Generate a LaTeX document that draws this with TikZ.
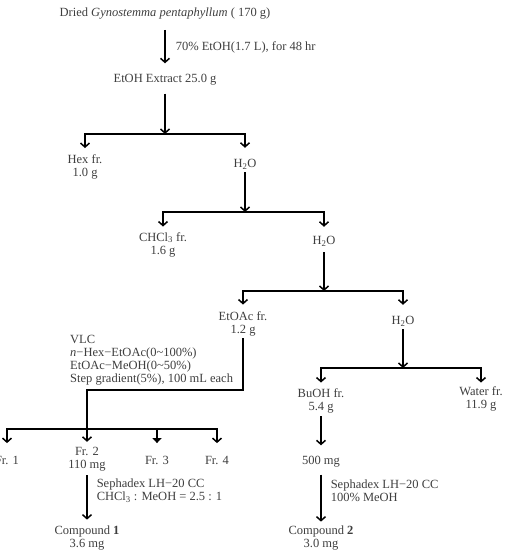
\documentclass[tikz,border=0pt]{standalone}
\usepackage{fontspec}
\setmainfont{Liberation Serif}
\usepackage{tikz}
\usetikzlibrary{arrows.meta, calc}
\definecolor{ink}{RGB}{62,62,62}

\begin{document}
\begin{tikzpicture}[x=1pt, y=-1pt,
  stage/.style={font=\fontsize{12.5}{13}\selectfont, align=center, inner sep=1pt, text=ink},
  note/.style={stage, align=left, anchor=west},
  flow/.style={line width=1.5pt, -{Straight Barb[length=4pt,width=9pt]}},
  flowfill/.style={line width=1.5pt, -{Triangle[length=5pt,width=9pt]}},
]
  \useasboundingbox (0,0) rectangle (509,557);

  % Extraction
  \node[stage] (dried) at (165,14) {Dried \textit{Gynostemma pentaphyllum} ( 170 g)};
  \node[stage] (extract) at (165,80) {EtOH Extract 25.0 g};
  \draw[flow, shorten <=9pt, shorten >=10pt] (dried) -- node[note, right=9pt] {70\% EtOH(1.7 L), for 48 hr} (extract);

  % Partition 1
  \node[stage] (hex) at (85,166.5) {Hex fr.\\1.0 g};
  \node[stage] (waterA) at (245,164) {H\textsubscript{2}O};
  \coordinate (splitA) at (165,134);
  \draw[flow, shorten <=7pt] (extract) -- (splitA);
  \draw[flow, shorten >=5pt] (splitA) -| (hex);
  \draw[flow, shorten >=10pt] (splitA) -| (waterA);

  % Partition 2
  \node[stage] (chcl) at (163,244.5) {CHCl\textsubscript{3} fr.\\1.6 g};
  \node[stage] (waterB) at (324,241) {H\textsubscript{2}O};
  \coordinate (splitB) at (245,212);
  \draw[flow, shorten <=2pt] (waterA) -- (splitB);
  \draw[flow, shorten >=4.5pt] (splitB) -| (chcl);
  \draw[flow, shorten >=8pt] (splitB) -| (waterB);

  % Partition 3
  \node[stage] (etoac) at (243,323.5) {EtOAc fr.\\1.2 g};
  \node[stage] (waterC) at (403,321) {H\textsubscript{2}O};
  \coordinate (splitC) at (324,291);
  \draw[flow, shorten <=5pt] (waterB) -- (splitC);
  \draw[flow, shorten >=5.5pt] (splitC) -| (etoac);
  \draw[flow, shorten >=10pt] (splitC) -| (waterC);

  % Partition 4
  \node[stage] (buoh) at (321,400.5) {BuOH fr.\\5.4 g};
  \node[stage] (water) at (481,398.5) {Water fr.\\11.9 g};
  \coordinate (splitD) at (403,368);
  \draw[flow, shorten <=2pt] (waterC) -- (splitD);
  \draw[flow, shorten >=4.5pt] (splitD) -| (buoh);
  \draw[flow, shorten >=2.5pt] (splitD) -| (water);

  % VLC of EtOAc fraction
  \node[note] (vlc) at (69,360.5) {VLC\\\textit{n}−Hex−EtOAc(0\textasciitilde 100\%)\\EtOAc−MeOH(0\textasciitilde 50\%)\\Step gradient(5\%), 100 mL each};
  \node[stage] (fr1) at (7,460) {Fr. 1};
  \node[stage] (fr2) at (87,459.5) {Fr. 2\\110 mg};
  \node[stage] (fr3) at (157,460) {Fr. 3};
  \node[stage] (fr4) at (217,460) {Fr. 4};
  \coordinate (bend) at (87,390);
  \coordinate (splitE) at (87,429);
  \draw[flow, shorten <=1.5pt, shorten >=4.5pt] (etoac) |- (bend) -- (fr2);
  \draw[flow, shorten >=11.5pt] (splitE) -| (fr1);
  \draw[flow, shorten >=11.5pt] (splitE) -| (fr4);
  \draw[flowfill, shorten >=11.5pt] (fr3 |- splitE) -- (fr3);

  % Sephadex columns
  \node[stage] (cpd1) at (87,538.5) {Compound \textbf{1}\\3.6 mg};
  \draw[flow, shorten <=2.5pt, shorten >=5.5pt] (fr2) -- node[note, right=8pt, pos=0.35] {Sephadex LH−20 CC\\CHCl\textsubscript{3} : MeOH = 2.5 : 1} (cpd1);

  \node[stage] (sub500) at (321,462) {500 mg};
  \node[stage] (cpd2) at (321,538.5) {Compound \textbf{2}\\3.0 mg};
  \draw[flow, shorten <=2.5pt, shorten >=10pt] (buoh) -- (sub500);
  \draw[flow, shorten <=6pt, shorten >=3.5pt] (sub500) -- node[note, right=8pt, pos=0.39] {Sephadex LH−20 CC\\100\% MeOH} (cpd2);
\end{tikzpicture}
\end{document}
